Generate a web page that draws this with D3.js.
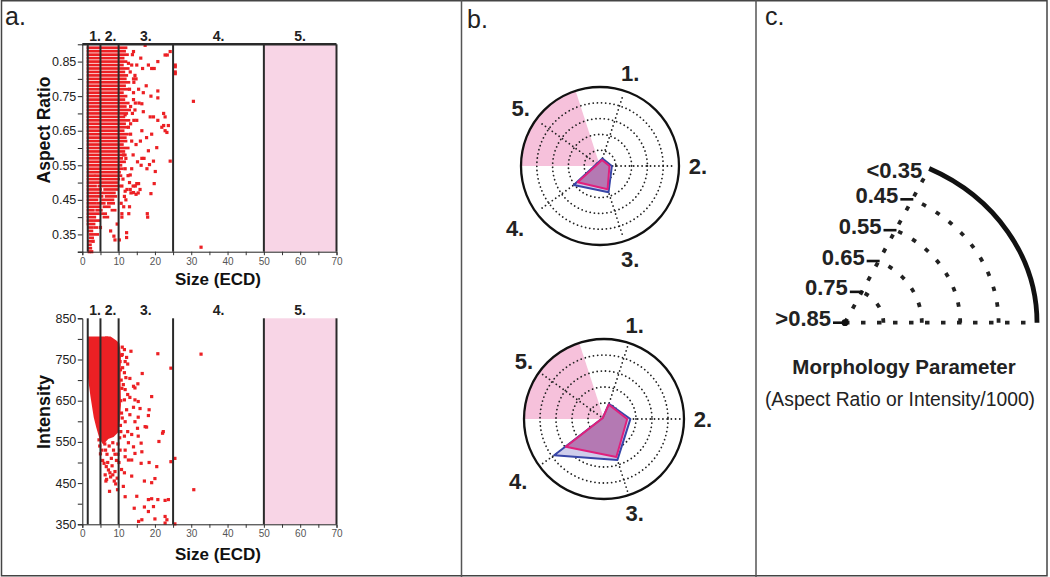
<!DOCTYPE html>
<html><head><meta charset="utf-8">
<script src="https://cdn.jsdelivr.net/npm/d3@7"></script>
<style>body{margin:0;background:#fff}svg{display:block}text{font-family:"Liberation Sans",Arial,Helvetica,sans-serif}</style>
</head><body><svg id="fig" width="1050" height="577"></svg>
<script>
// ---------------- DATA ----------------
const sizeTicks = [0,5,10,15,20,25,30,35,40,45,50,55,60,65,70];
const arTicks = [0.30,0.35,0.40,0.45,0.50,0.55,0.60,0.65,0.70,0.75,0.80,0.85];
const arTickLabels = [0.35,0.45,0.55,0.65,0.75,0.85];
const intTicks = [350,400,450,500,550,600,650,700,750,800,850];
const intTickLabels = [350,450,550,650,750,850];
const regionBounds = [1.5,5,10,25,50,70];
const regionLabels = ["1.","2.","3.","4.","5."];

// Aspect-ratio scatter: dense horizontal rows [aspectRatio, sizeFrom, sizeTo]
const arDenseRows = [
 [0.89,1.6,12.0],[0.88,1.6,11.6],[0.87,1.6,12.4],[0.86,1.6,11.2],[0.85,1.6,12.0],[0.84,1.6,11.0],
 [0.83,1.6,12.6],[0.82,1.6,11.4],[0.81,1.6,12.2],[0.80,1.6,11.8],[0.79,1.6,12.8],[0.78,1.6,11.6],
 [0.77,1.6,12.4],[0.76,1.6,11.0],[0.75,1.6,12.0],[0.74,1.6,11.4],[0.73,1.6,12.6],[0.72,1.6,11.8],
 [0.71,1.6,13.0],[0.70,1.6,12.2],[0.69,1.6,11.4],[0.68,1.6,12.8],[0.67,1.6,11.6],[0.66,1.6,12.2],
 [0.65,1.6,11.2],[0.64,1.6,12.4],[0.63,1.6,11.8],[0.62,1.6,12.0],[0.61,1.6,11.0],[0.60,1.6,12.6],
 [0.59,1.6,11.4],[0.58,1.6,11.8],[0.57,1.6,10.8],[0.56,1.6,11.6],[0.55,1.6,10.6],[0.54,1.6,11.0],
 [0.53,1.6,10.2],[0.52,1.6,3.2],[0.52,3.8,10.6],[0.51,1.6,5.6],[0.51,6.4,10.0],[0.50,1.6,4.2],
 [0.50,5.0,9.4],[0.49,1.6,3.6],[0.49,4.6,10.2],[0.48,1.6,5.0],[0.48,6.2,9.6],[0.47,1.6,3.4],
 [0.47,4.2,8.8],[0.46,1.6,5.4],[0.46,6.6,9.2],[0.45,1.6,4.0],[0.45,5.6,8.4],[0.44,1.6,3.6],
 [0.44,4.4,6.0],[0.44,7.2,8.6],[0.43,1.6,4.8],[0.43,6.0,7.4],[0.42,1.6,3.0],[0.42,4.0,5.2],
 [0.42,8.2,9.0],[0.41,1.6,4.4],[0.41,5.6,6.4],[0.40,1.6,3.4],[0.40,6.0,7.0],[0.39,1.6,2.8],
 [0.39,3.6,4.6],[0.38,1.6,3.2],[0.37,1.8,2.6],[0.37,3.4,4.0],[0.36,2.0,2.6],[0.35,2.2,2.8],
 [0.35,3.6,4.2],[0.34,2.2,2.8],[0.33,2.0,2.4],[0.32,1.8,2.2],[0.31,1.9,2.3]
];
// Aspect-ratio scatter: individual points [size, aspectRatio]
const arPoints = [
 [14.1,.879],[17.3,.897],[24.2,.879],[22.8,.869],[23.4,.869],[16.1,.86],[20.8,.85],[25.6,.84],[25.6,.82],
 [18.2,.84],[19.1,.83],[19.8,.83],[12.7,.845],[13.6,.84],[14.5,.81],[14.1,.80],[14.8,.80],[17.6,.78],
 [15.5,.77],[14.1,.76],[16.8,.76],[20.8,.765],[18.9,.75],[20.8,.745],[14.1,.74],[30.6,.735],[16.4,.728],
 [16.8,.705],[13.3,.72],[14.5,.71],[18.7,.69],[19.6,.69],[22.4,.70],[22.8,.69],[11.8,.696],[15.0,.68],
 [13.3,.67],[20.8,.68],[21.9,.66],[22.4,.665],[23.7,.665],[23.3,.645],[22.8,.65],[16.4,.65],[19.1,.64],
 [12.7,.66],[17.7,.63],[13.3,.64],[20.5,.601],[18.2,.592],[16.4,.57],[17.0,.57],[19.6,.562],[24.2,.562],
 [17.8,.54],[18.5,.552],[20.1,.532],[13.6,.54],[13.2,.522],[15.0,.497],[15.5,.497],[19.8,.497],[15.9,.48],
 [14.1,.471],[14.8,.466],[18.9,.468],[13.2,.48],[11.8,.475],[13.0,.43],[17.9,.41],[10.9,.41],[12.2,.355],
 [8.7,.345],[25.6,.835],[25.6,.815],[32.7,.313],[9.0,.334],[10.2,.334],[12.2,.341],[18.0,.40],[12.8,.41],
 [10.9,.40],[13.8,.87],[13.2,.82],[14.2,.79],[13.0,.77],[14.6,.73],[13.8,.70],[14.2,.68],[13.6,.62],
 [14.8,.61],[14.0,.58],[15.2,.56],[11.4,.58],[12.0,.57],[11.8,.54],[12.6,.52],[11.2,.51],[13.0,.50],
 [10.9,.49],[12.3,.48],[11.6,.46],[13.4,.47],[12.0,.45],[10.7,.44],[14.0,.49],[14.6,.49],[15.4,.47],
 [16.0,.62],[15.6,.73],[15.0,.84],[16.6,.83],[16.2,.55],[11.4,.43],[9.6,.38],[7.8,.36],[5.0,.37],
 [3.0,.33],[2.6,.30],[1.9,.30]
];
// Intensity scatter: outline of the saturated dense cloud [size, intensity]
const intDenseOutline = [
 [1.7,803],[7.6,803],[9.0,795],[9.9,788],[10.3,760],[10.2,700],[10.3,640],[10.0,600],[9.6,575],
 [8.5,565],[7.0,560],[5.8,548],[5.0,560],[4.2,585],[3.5,610],[2.6,660],[2.0,700],[1.7,720]
];
// Intensity scatter: individual points [size, intensity]
const intPoints = [
 [6.7,802],[11.0,780],[11.6,774],[13.4,770],[20.8,764],[24.4,729],[11.0,762],[12.2,755],[11.8,745],
 [12.5,739],[16.5,716],[11.1,730],[11.6,718],[12.0,706],[13.1,704],[15.3,691],[14.5,681],[14.1,685],
 [11.3,689],[11.8,677],[19.1,660],[12.5,665],[13.1,658],[14.5,652],[15.4,648],[11.6,652],[14.1,634],
 [15.9,631],[18.4,628],[12.2,628],[18.2,614],[15.4,610],[13.1,616],[11.0,608],[11.8,599],[14.5,599],
 [17.3,587],[17.7,586],[22.3,575],[22.1,571],[15.2,583],[12.5,575],[13.6,568],[11.6,564],[15.4,564],
 [16.2,547],[21.1,551],[12.7,548],[14.1,538],[11.8,530],[16.4,526],[14.5,522],[11.8,514],[25.5,510],
 [24.4,502],[12.7,506],[13.6,506],[16.2,498],[18.4,500],[20.5,490],[7.6,475],[6.7,459],[10.8,483],
 [11.6,475],[13.6,467],[17.1,455],[19.1,451],[20.0,461],[9.7,434],[11.3,442],[11.8,417],[15.0,418],
 [18.2,410],[19.1,412],[20.8,410],[22.8,408],[23.7,410],[14.3,389],[17.1,392],[19.6,393],[18.2,381],
 [16.4,361],[15.5,357],[20.0,363],[22.8,369],[23.3,361],[22.8,353],[25.5,351],[30.7,434],[32.7,763],
 [4.6,555],[4.8,540],[5.0,521],[5.6,505],[6.0,498],[6.6,490],[7.2,482],[6.3,470],[6.5,455],[7.8,465],
 [8.4,470],[9.0,478],[8.8,455],[7.5,430],[9.2,448],[9.6,462],[5.4,530],[6.8,520],[8.0,510],[9.4,505],
 [9.8,520],[8.6,530],[7.4,540],[6.2,545],[9.8,545],[10.3,560],[10.6,575],[10.5,590],[10.8,620],
 [10.6,650],[10.9,680],[10.7,700],[10.5,725],[10.4,745],[10.8,760],[8.2,492],[7.0,500],[9.0,520],
 [6.4,530],[8.4,548],[10.1,500],[10.4,530]
];

// Polar (panel b): size-class axes and morphology parameter per class
const polarAxes = ["1.","2.","3.","4.","5."];
const topBlue = [0.80,0.775,0.675,0.645,0.825];
const topPink = [0.81,0.79,0.695,0.675,0.83];
const botBlue = [0.75,0.685,0.58,0.465,0.84];
const botPink = [0.755,0.705,0.60,0.555,0.84];
const ringLevels = [0.75,0.65,0.55,0.45];

// Legend (panel c)
const morphValues = [0.85,0.75,0.65,0.55,0.45,0.35];
const morphLabels = [">0.85","0.75","0.65","0.55","0.45","<0.35"];

// ---------------- DRAW ----------------
const RED = "#ec2024";
const svg = d3.select("#fig");
svg.append("rect").attr("width",1050).attr("height",577).attr("fill","#fff");

// frame & dividers
svg.append("rect").attr("x",1.5).attr("y",0.75).attr("width",1045.5).attr("height",575)
  .attr("fill","none").attr("stroke","#444").attr("stroke-width",1.5);
[461.5,756].forEach(xx=>svg.append("line").attr("x1",xx).attr("x2",xx).attr("y1",0).attr("y2",577)
  .attr("stroke","#555").attr("stroke-width",1.5));
[["a.",5,25],["b.",467,28],["c.",765,25]].forEach(([t,xx,yy])=>
  svg.append("text").attr("x",xx).attr("y",yy).attr("font-size",25).attr("fill","#222").text(t));

function scatter(o){
  const x = d3.scaleLinear().domain([0,70]).range([82.3,336.5]);
  const y = d3.scaleLinear().domain(o.yDomain).range([o.bottom,o.top]);
  const g = svg.append("g");
  g.append("rect").attr("x",x(50)).attr("y",o.top).attr("width",x(70)-x(50)).attr("height",o.bottom-o.top)
    .attr("fill","#f8d5e6");
  if(o.rows){
    g.selectAll(null).data(o.rows).join("rect")
      .attr("x",d=>x(d[1])-1.5).attr("width",d=>x(d[2])-x(d[1])+3)
      .attr("y",d=>y(d[0])-1.35).attr("height",2.7).attr("fill",RED);
  }
  if(o.poly){
    g.append("path").datum(o.poly).attr("d",d3.line().x(d=>x(d[0])).y(d=>y(d[1])).curve(d3.curveLinearClosed))
      .attr("fill",RED).attr("stroke",RED).attr("stroke-width",2.5).attr("stroke-linejoin","round");
  }
  g.selectAll(null).data(o.points).join("rect")
    .attr("x",d=>x(d[0])-1.6).attr("y",d=>y(d[1])-1.6).attr("width",3.2).attr("height",3.2).attr("fill",RED);
  // axes
  const ya = g.append("g").attr("transform",`translate(${x(0)},0)`)
    .call(d3.axisLeft(y).tickValues(o.yTicks).tickSize(4.5).tickPadding(1.5)
      .tickFormat(d=>o.yLabels.some(v=>Math.abs(v-d)<1e-9)?o.fmt(d):""));
  ya.select(".domain").attr("stroke","#222");
  ya.selectAll("line").attr("stroke","#222");
  ya.selectAll("text").attr("font-size",12.5).attr("fill","#222");
  const xa = g.append("g").attr("transform",`translate(0,${o.bottom})`)
    .call(d3.axisBottom(x).tickValues(sizeTicks).tickSize(3.5).tickPadding(2.5).tickFormat(d=>d%10===0?d:""));
  xa.select(".domain").attr("stroke","#222");
  xa.selectAll("line").attr("stroke","#333");
  xa.selectAll("text").attr("font-size",10).attr("fill","#555");
  // region boundaries
  g.selectAll(null).data(regionBounds).join("line")
    .attr("x1",d=>x(d)).attr("x2",d=>x(d)).attr("y1",o.top).attr("y2",o.bottom)
    .attr("stroke","#2a2a2a").attr("stroke-width",2);
  if(o.topLine) g.append("line").attr("x1",x(0)).attr("x2",x(70)).attr("y1",o.top).attr("y2",o.top)
    .attr("stroke","#2a2a2a").attr("stroke-width",2.4);
  g.selectAll(null).data(regionLabels).join("text")
    .attr("x",(d,i)=>x((regionBounds[i]+regionBounds[i+1])/2)+(i<2?1:0)).attr("y",o.top-3.5)
    .attr("text-anchor","middle").attr("font-size",14).attr("font-weight","bold").attr("fill","#222").text(d=>d);
  // labels
  g.append("text").attr("transform",`translate(50,${o.yLabelY}) rotate(-90)`).attr("text-anchor","middle")
    .attr("font-size",o.yLabelSize).attr("font-weight","bold").attr("fill","#111").text(o.yLabel);
  g.append("text").attr("x",218).attr("y",o.xLabelY).attr("text-anchor","middle")
    .attr("font-size",17).attr("font-weight","bold").attr("fill","#111").text("Size (ECD)");
}

scatter({top:44.3,bottom:251.7,yDomain:[0.30,0.90],yTicks:arTicks,yLabels:arTickLabels,fmt:d3.format(".2f"),
  rows:arDenseRows,points:arPoints,topLine:true,yLabel:"Aspect Ratio",yLabelY:130,yLabelSize:17.5,xLabelY:285});
scatter({top:318.3,bottom:524.3,yDomain:[350,850],yTicks:intTicks,yLabels:intTickLabels,fmt:d3.format("d"),
  poly:intDenseOutline,points:intPoints,topLine:false,yLabel:"Intensity",yLabelY:412,yLabelSize:18,xLabelY:560});

// ---- polar plots ----
function polar(cx,cy,R,blue,pink){
  const g = svg.append("g").attr("transform",`translate(${cx},${cy})`);
  const r = d3.scaleLinear().domain([0.85,0.35]).range([0,R]);
  const ang = i => (72 - i*72)*Math.PI/180;
  const pt = (v,i) => [r(v)*Math.cos(ang(i)), -r(v)*Math.sin(ang(i))];
  g.append("path").attr("d",d3.arc()({innerRadius:0,outerRadius:R,startAngle:-Math.PI/2,endAngle:-Math.PI/10}))
    .attr("fill","#f6c1db");
  const dot = s => s.attr("fill","none").attr("stroke","#222").attr("stroke-width",1.8)
    .attr("stroke-linecap","round").attr("stroke-dasharray","0.01 4.2");
  g.selectAll(null).data(ringLevels).join("circle").attr("r",d=>r(d)).call(dot);
  g.selectAll(null).data(polarAxes).join("line").attr("x1",0).attr("y1",0)
    .attr("x2",(d,i)=>0.95*R*Math.cos(ang(i))).attr("y2",(d,i)=>-0.95*R*Math.sin(ang(i))).call(dot);
  const line = d3.line().curve(d3.curveLinearClosed);
  g.append("path").attr("d",line(blue.map(pt))).attr("fill","#cfcdeb").attr("stroke","#3846a8")
    .attr("stroke-width",2).attr("stroke-linejoin","round");
  g.append("path").attr("d",line(pink.map(pt))).attr("fill","#a8559b").attr("fill-opacity",0.7)
    .attr("stroke","#e0207c").attr("stroke-width",2).attr("stroke-linejoin","round");
  g.append("circle").attr("r",R).attr("fill","none").attr("stroke","#111").attr("stroke-width",2.3);
  g.selectAll(null).data(polarAxes).join("text")
    .attr("x",(d,i)=>(R+(i===3?26:19))*Math.cos(ang(i))).attr("y",(d,i)=>-(R+(i===3?26:19))*Math.sin(ang(i)))
    .attr("dy","0.36em").attr("text-anchor","middle").attr("font-size",22).attr("font-weight","bold")
    .attr("fill","#222").text(d=>d);
}
polar(600,166,79,topBlue,topPink);
polar(604,419,80,botBlue,botPink);

// ---- legend (panel c) ----
(function(){
  const cx=845, cy=322.7, ky=0.8936, th=64*Math.PI/180;
  const lr = d3.scaleLinear().domain([0.85,0.35]).range([0,192]);
  const g = svg.append("g");
  const P = v => [cx+lr(v)*Math.cos(th), cy-ky*lr(v)*Math.sin(th)];
  const arcD = v => { const rr=lr(v); const e=P(v);
    return `M${cx+rr},${cy} A${rr},${ky*rr} 0 0 0 ${e[0]},${e[1]}`; };
  const dots = s => s.attr("fill","none").attr("stroke","#222").attr("stroke-width",3.8).attr("stroke-dasharray","4.5 11.5");
  g.selectAll(null).data(morphValues.slice(1,5)).join("path").attr("d",arcD).call(dots);
  const e5 = P(0.35);
  g.append("path").attr("d",`M${cx},${cy}L${cx+lr(0.35)},${cy}`).call(dots);
  g.append("path").attr("d",`M${cx},${cy}L${e5[0]},${e5[1]}`).call(dots);
  g.append("path").attr("d",arcD(0.35)).attr("fill","none").attr("stroke","#111").attr("stroke-width",4.8);
  g.append("circle").attr("cx",cx).attr("cy",cy).attr("r",3.4).attr("fill","#111");
  morphValues.forEach((v,i)=>{
    const p=P(v);
    if(i<5){
      g.append("line").attr("x1",p[0]-12).attr("x2",p[0]+1).attr("y1",p[1]).attr("y2",p[1])
        .attr("stroke","#111").attr("stroke-width",2.6);
      g.append("text").attr("x",p[0]-14).attr("y",p[1]+3.5).attr("text-anchor","end")
        .attr("font-size",22).attr("font-weight","bold").attr("fill","#222").text(morphLabels[i]);
    } else {
      g.append("text").attr("x",p[0]-7).attr("y",p[1]+10).attr("text-anchor","end")
        .attr("font-size",22).attr("font-weight","bold").attr("fill","#222").text(morphLabels[i]);
    }
  });
  g.append("text").attr("x",904).attr("y",374).attr("text-anchor","middle").attr("font-size",20.5)
    .attr("font-weight","bold").attr("fill","#222").text("Morphology Parameter");
  g.append("text").attr("x",900).attr("y",406).attr("text-anchor","middle").attr("font-size",19.3)
    .attr("fill","#222").text("(Aspect Ratio or Intensity/1000)");
})();
</script></body></html>
